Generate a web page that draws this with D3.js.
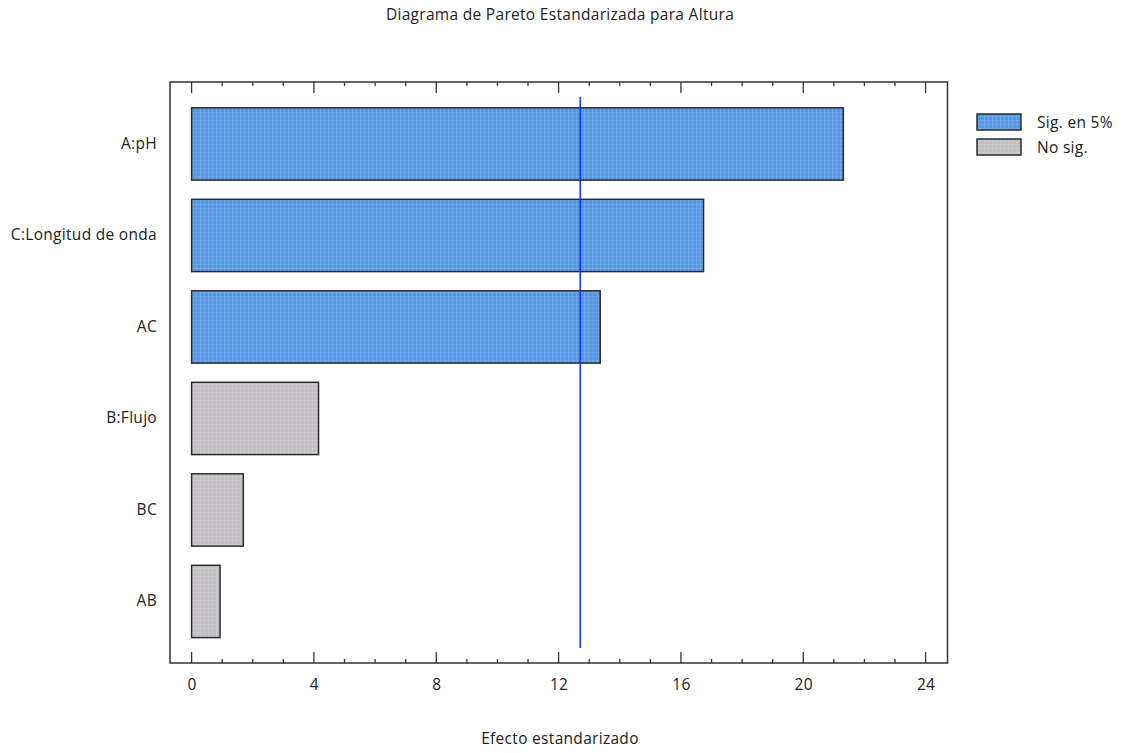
<!DOCTYPE html>
<html>
<head>
<meta charset="utf-8">
<script src="https://cdn.jsdelivr.net/npm/d3@7"></script>
<style>
  html, body { margin: 0; padding: 0; background: #fff; }
  svg text { font-family: "Open Sans", "DejaVu Sans", sans-serif; fill: #222; letter-spacing: 0.3px; }
</style>
</head>
<body>
<svg id="chart" width="1123" height="753"></svg>
<script>
// Standardized Pareto chart data
const factors = ["A:pH", "C:Longitud de onda", "AC", "B:Flujo", "BC", "AB"];
const effects = [21.31, 16.74, 13.36, 4.15, 1.69, 0.93];
const significant = [true, true, true, false, false, false];
const criticalValue = 12.706;
const xTicks = [0, 4, 8, 12, 16, 20, 24];
const legendLabels = ["Sig. en 5%", "No sig."];

const FS = 15.5;
const svg = d3.select("#chart");
const frame = { left: 170, right: 947.5, top: 82, bottom: 663 };

const x = d3.scaleLinear().domain([0, 24]).range([191.6, 925.6]);
const y = d3.scaleBand().domain(factors).range([98.2, 647.2])
  .paddingInner(0.21).paddingOuter(0.105);

// fill patterns with a fine grid texture
const defs = svg.append("defs");
function texture(id, base, line) {
  const p = defs.append("pattern").attr("id", id)
    .attr("patternUnits", "userSpaceOnUse").attr("width", 4).attr("height", 4);
  p.append("rect").attr("width", 4).attr("height", 4).attr("fill", base);
  p.append("rect").attr("width", 4).attr("height", 1).attr("fill", line).attr("opacity", 0.35);
  p.append("rect").attr("width", 1).attr("height", 4).attr("fill", line).attr("opacity", 0.35);
}
texture("sigFill", "#5696e2", "#8cbcf0");
texture("nsFill", "#c1bfc5", "#d8d6da");
const fills = { true: "url(#sigFill)", false: "url(#nsFill)" };

// title
svg.append("text").attr("x", 560).attr("y", 20).attr("text-anchor", "middle")
  .attr("font-size", FS).text("Diagrama de Pareto Estandarizada para Altura");

// bars
svg.append("g").selectAll("rect").data(factors).join("rect")
  .attr("x", x(0))
  .attr("y", d => y(d))
  .attr("width", (d, i) => x(effects[i]) - x(0))
  .attr("height", y.bandwidth())
  .attr("fill", (d, i) => fills[significant[i]])
  .attr("stroke", "#2b2b2b").attr("stroke-width", 1.5);

// critical value reference line
svg.append("line")
  .attr("x1", x(criticalValue)).attr("x2", x(criticalValue))
  .attr("y1", 97).attr("y2", 648)
  .attr("stroke", "#1030ff").attr("stroke-width", 1.5);

// plot frame
svg.append("rect")
  .attr("x", frame.left).attr("y", frame.top)
  .attr("width", frame.right - frame.left).attr("height", frame.bottom - frame.top)
  .attr("fill", "none").attr("stroke", "#333").attr("stroke-width", 1.5);

// ticks: major every 4, minor every 1, on bottom and mirrored on top
const minor = d3.range(0, 25, 1);
const tickG = svg.append("g").attr("stroke", "#333").attr("stroke-width", 1.3);
minor.forEach(v => {
  const len = v % 4 === 0 ? 11 : 4;
  tickG.append("line").attr("x1", x(v)).attr("x2", x(v))
    .attr("y1", frame.bottom).attr("y2", frame.bottom - len);
  tickG.append("line").attr("x1", x(v)).attr("x2", x(v))
    .attr("y1", frame.top).attr("y2", frame.top + len);
});

// bottom axis labels
const xAxis = d3.axisBottom(x).tickValues(xTicks).tickSize(0).tickPadding(0);
const axG = svg.append("g").attr("transform", `translate(0,${frame.bottom + 16})`).call(xAxis);
axG.select(".domain").remove();
axG.selectAll("text").attr("font-size", FS).attr("fill", "#222")
  .attr("font-family", "'Open Sans', 'DejaVu Sans', sans-serif");

// category labels
const yAxis = d3.axisLeft(y).tickSize(0).tickPadding(0);
const ayG = svg.append("g").attr("transform", "translate(157,0)").call(yAxis);
ayG.select(".domain").remove();
ayG.selectAll("text").attr("font-size", FS).attr("fill", "#222")
  .attr("font-family", "'Open Sans', 'DejaVu Sans', sans-serif");

// x-axis title
svg.append("text").attr("x", 560).attr("y", 744).attr("text-anchor", "middle")
  .attr("font-size", FS).text("Efecto estandarizado");

// legend
const legend = svg.append("g");
legendLabels.forEach((lab, i) => {
  const yy = 114 + i * 25;
  legend.append("rect").attr("x", 977).attr("y", yy).attr("width", 44).attr("height", 16)
    .attr("fill", i === 0 ? fills[true] : fills[false])
    .attr("stroke", "#2b2b2b").attr("stroke-width", 1.5);
  legend.append("text").attr("x", 1037).attr("y", yy + 13.5)
    .attr("font-size", FS).text(lab);
});
</script>
</body>
</html>
